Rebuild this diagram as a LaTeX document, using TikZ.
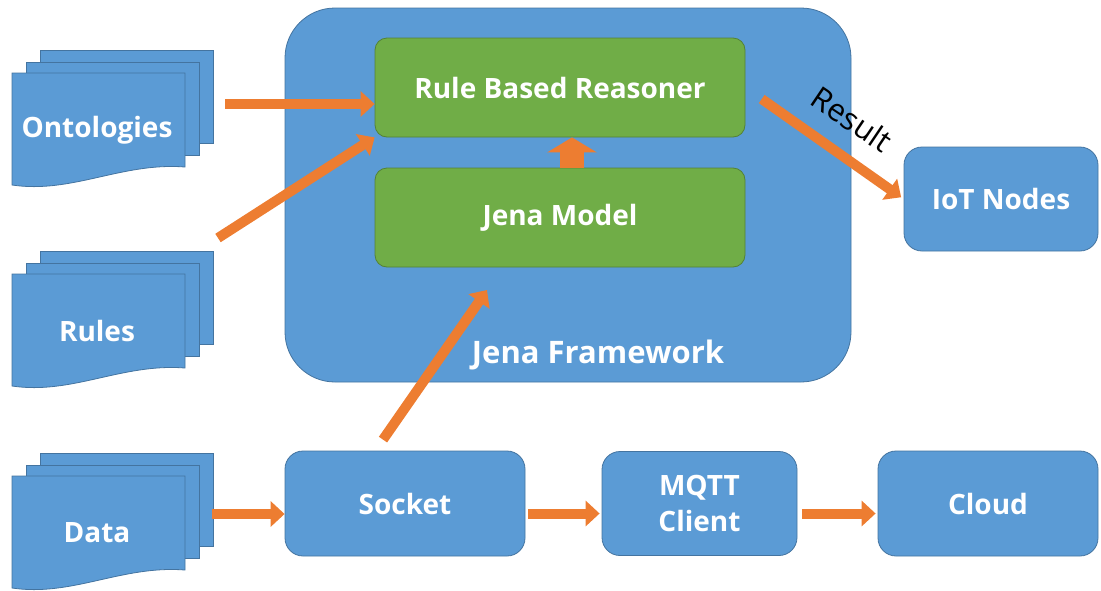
\documentclass[tikz,border=0pt]{standalone}
\usepackage{fontspec}
\setmainfont{Open Sans}
\usepackage{xcolor}
\usetikzlibrary{arrows.meta,calc,positioning}
\definecolor{boxblue}{HTML}{5B9BD5}
\definecolor{boxgreen}{HTML}{70AD47}
\definecolor{arrowor}{HTML}{ED7D31}

\newcommand{\docstack}[4]{%
	\filldraw[page] (#1+28,#2) rectangle (#1+201,#2+93);
	\filldraw[page] (#1+14,#2+12) rectangle (#1+187,#2+105);
	\filldraw[page] (#1,#2+23) -- (#1+173,#2+23) -- (#1+173,#2+117) .. controls (#1+110,#2+112) and (#1+60,#2+144) .. (#1,#2+135) -- cycle;
	\node[txt] (#3) at (#1+85,#2+80) {#4};
}

\begin{document}
\begin{tikzpicture}[x=1pt,y=-1pt,
		page/.style={fill=boxblue,draw=boxblue!75!black,line width=0.8pt},
		txt/.style={text=white,font=\bfseries\fontsize{28}{36}\selectfont,align=center},
		bluebox/.style={txt,fill=boxblue,draw=boxblue!75!black,line width=0.8pt,rounded corners=18pt,inner sep=0pt},
		greenbox/.style={txt,fill=boxgreen,draw=boxgreen!75!black,line width=0.8pt,rounded corners=12pt,minimum width=370pt,minimum height=99pt,inner sep=0pt},
		flow/.style={draw=arrowor,line width=10pt,-{Triangle[width=25pt,length=14pt]}}]
		\useasboundingbox (0,0) rectangle (1101,590);
		
		\node[bluebox,rounded corners=50pt,minimum width=566pt,minimum height=374pt] (jena) at (568,195) {};
		\node[txt,font=\bfseries\fontsize{31}{38}\selectfont] (jf) at (598,355) {Jena Framework};
		\node[greenbox] (rbr) at (560,87.5) {Rule Based Reasoner};
		\node[greenbox] (jm) at (560,217.5) {Jena Model};
		
		\docstack{12}{50}{onto}{Ontologies}
		\docstack{12}{251}{rules}{Rules}
		\docstack{12}{453}{data}{Data}
		
		\node[bluebox,minimum width=240pt,minimum height=105pt] (sock) at (405,503.5) {Socket};
		\node[bluebox,minimum width=195pt,minimum height=104pt] (mqtt) at (699.5,503.5) {MQTT\\Client};
		\node[bluebox,minimum width=220pt,minimum height=105pt] (cloud) at (988,503.5) {Cloud};
		\node[bluebox,minimum width=194pt,minimum height=104pt] (iot) at (1001,199) {IoT Nodes};
		
		\coordinate (ob) at (225,104);
		\coordinate (rb) at (218,238);
		\coordinate (db) at (212,514);
		\coordinate (jt) at (487,290);
		\draw[flow] (ob) -- (rbr.west |- ob);
		\draw[flow] (rb) -- (rbr.south west);
		\draw[flow] ([xshift=-22pt,yshift=11pt]sock.north) -- (jt);
		\draw[flow,line width=24pt,-{Triangle[width=49pt,length=15pt]}] ([xshift=12pt]jm.north) -- ([xshift=12pt]rbr.south);
		\draw[flow,shorten <=20pt,shorten >=3pt] (rbr.east) -- (iot.west);
		\node[font=\fontsize{31}{36}\selectfont,rotate=-34] (res) at (852,119) {Result};
		\draw[flow] (db) -- (sock.west |- db);
		\draw[flow] ([xshift=3pt,yshift=-10pt]sock.east) -- ([xshift=-2pt,yshift=-10pt]mqtt.west);
		\draw[flow] ([xshift=5pt,yshift=-10pt]mqtt.east) -- ([xshift=-2pt,yshift=-10pt]cloud.west);
\end{tikzpicture}
\end{document}
